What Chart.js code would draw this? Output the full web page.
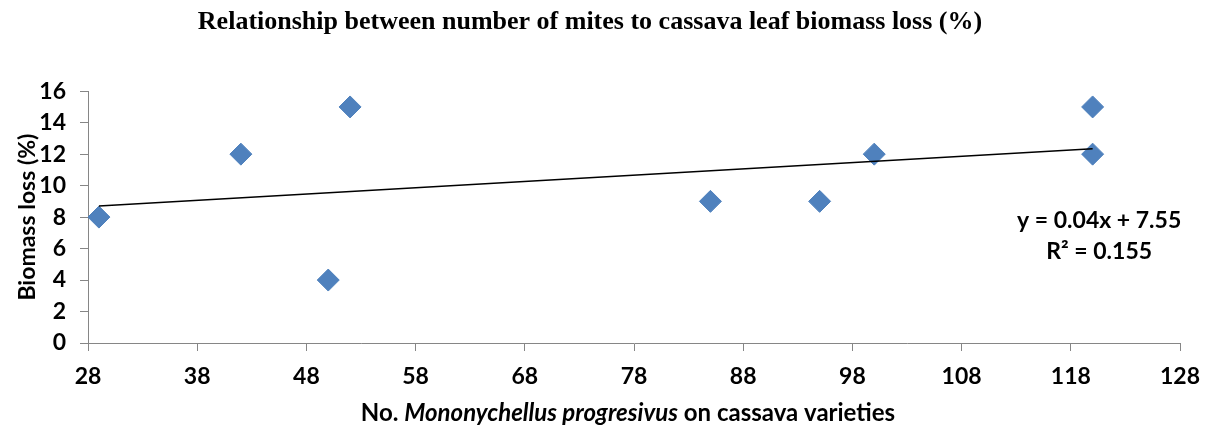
<!DOCTYPE html>
<html>
<head>
<meta charset="utf-8">
<script src="https://cdn.jsdelivr.net/npm/chart.js@4"></script>
<style>
  html, body { margin: 0; padding: 0; background: #fff; }
  #wrap { width: 1209px; height: 431px; }
</style>
</head>
<body>
<div id="wrap"><canvas id="scatterChart" width="1209" height="431"></canvas></div>
<script>
// mites per variety vs biomass loss
const mites = [29, 42, 50, 52, 85, 95, 100, 120, 120];
const biomassLoss = [8, 12, 4, 15, 9, 9, 12, 15, 12];

// linear trendline ends, as drawn
const trendX = [29, 120];
const trendY = [8.71, 12.35];

const equationLines = ["y = 0.04x + 7.55", "R\u00B2 = 0.155"];

const xTicks = [28, 38, 48, 58, 68, 78, 88, 98, 108, 118, 128];
const yTicks = [0, 2, 4, 6, 8, 10, 12, 14, 16];

const axisFont = "Lato, 'Open Sans', sans-serif";
const axisGray = "#868686";

let ctx = document.getElementById("scatterChart").getContext("2d");

// x axis title has an italic species name, so draw it by hand
const extraText = {
  id: "extra-text",
  afterDraw: (chart) => {
    const c = chart.ctx;
    const area = chart.chartArea;
    c.save();
    c.fillStyle = "#000";
    c.textBaseline = "middle";

    const parts = [
      { t: "No. ", f: "bold 24px " + axisFont },
      { t: "Mononychellus progresivus", f: "italic bold 24px " + axisFont },
      { t: " on cassava varieties", f: "bold 24px " + axisFont },
    ];
    let total = 0;
    parts.forEach((p) => {
      c.font = p.f;
      p.w = c.measureText(p.t).width;
      total += p.w;
    });
    let x = (area.left + area.right) / 2 - 6 - total / 2;
    c.textAlign = "left";
    parts.forEach((p) => {
      c.font = p.f;
      c.fillText(p.t, x, 413);
      x += p.w;
    });

    // trendline label
    c.font = "bold 23px " + axisFont;
    c.textAlign = "center";
    const xs = chart.scales.x;
    const ys = chart.scales.y;
    const cx = xs.getPixelForValue(120.6);
    c.fillText(equationLines[0], cx, ys.getPixelForValue(7.8));
    c.fillText(equationLines[1], cx, ys.getPixelForValue(5.8));
    c.restore();
  },
};

let scatterChart = new Chart(ctx, {
  type: "scatter",
  data: {
    datasets: [
      {
        label: "Biomass loss",
        data: mites.map((m, i) => ({ x: m, y: biomassLoss[i] })),
        pointStyle: "rectRot",
        pointRadius: 11,
        pointHoverRadius: 11,
        backgroundColor: "#4f81bd",
        borderColor: "#4f81bd",
        borderWidth: 1,
        order: 2,
      },
      {
        label: "Linear trend",
        type: "line",
        data: trendX.map((t, i) => ({ x: t, y: trendY[i] })),
        borderColor: "#000",
        borderWidth: 1.5,
        pointRadius: 0,
        fill: false,
        order: 1,
      },
    ],
  },
  options: {
    responsive: false,
    animation: false,
    layout: {
      padding: { left: 0, right: 29, top: 0, bottom: 0 },
    },
    scales: {
      x: {
        type: "linear",
        min: 28,
        max: 128,
        afterBuildTicks: (scale) => {
          scale.ticks = xTicks.map((v) => ({ value: v }));
        },
        afterFit: (scale) => {
          scale.height = 88;
          scale.paddingLeft = 0;
          scale.paddingRight = 0;
        },
        border: { color: axisGray, width: 1 },
        grid: {
          drawOnChartArea: false,
          drawTicks: true,
          tickLength: 8,
          color: axisGray,
        },
        ticks: {
          color: "#000",
          padding: 12,
          font: { family: axisFont, size: 23, weight: "bold" },
        },
      },
      y: {
        min: 0,
        max: 16,
        afterBuildTicks: (scale) => {
          scale.ticks = yTicks.map((v) => ({ value: v }));
        },
        afterFit: (scale) => {
          scale.width = 88;
        },
        border: { color: axisGray, width: 1 },
        grid: {
          drawOnChartArea: false,
          drawTicks: true,
          tickLength: 8,
          color: axisGray,
        },
        ticks: {
          color: "#000",
          padding: 14,
          font: { family: axisFont, size: 23, weight: "bold" },
        },
        title: {
          display: true,
          text: "Biomass loss (%)",
          color: "#000",
          padding: { top: 14, bottom: 0 },
          font: { family: axisFont, size: 23, weight: "bold" },
        },
      },
    },
    plugins: {
      legend: { display: false },
      tooltip: { enabled: false },
      title: {
        display: true,
        text: "Relationship between number of mites to cassava leaf biomass loss (%)",
        color: "#000",
        padding: { top: 7, bottom: 53 },
        font: {
          family: "'Liberation Serif', 'Times New Roman', serif",
          size: 26,
          weight: "bold",
        },
      },
    },
  },
  plugins: [extraText],
});
</script>
</body>
</html>
